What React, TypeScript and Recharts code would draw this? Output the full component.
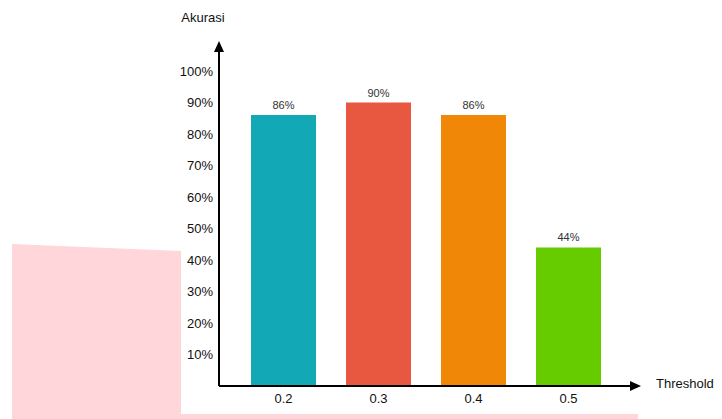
import { BarChart, Bar, XAxis, YAxis, Cell, LabelList } from 'recharts'

const thresholds = ['0.2', '0.3', '0.4', '0.5']
const accuracy = [86, 90, 86, 44]
const barColors = ['#13a8b6', '#e8573f', '#f08706', '#66cc00']
const yTicks = [10, 20, 30, 40, 50, 60, 70, 80, 90, 100]

const data = thresholds.map((t, i) => ({ threshold: t, akurasi: accuracy[i] }))

const W = 722
const H = 419
const LEFT = 219
const RIGHT = 632
const TOP = 50
const BOTTOM = 386
const X_AXIS_H = 30
const Y_AXIS_W = 60
// 100% sits at y=71
const Y_MAX = ((BOTTOM - TOP) / (BOTTOM - 71)) * 100
const FONT = '"Liberation Sans", Arial, sans-serif'

export default function App() {
  return (
    <div style={{ position: 'fixed', left: 0, top: 0, width: W, height: H, background: '#fff', fontFamily: FONT }}>
      <svg width={W} height={H} style={{ position: 'absolute', left: 0, top: 0 }}>
        <polygon points="12,244 181,251 181,414 638,414 638,419 12,419" fill="#ffd6da" />
      </svg>
      <div style={{ position: 'absolute', left: 0, top: 0 }}>
        <BarChart
          width={W}
          height={H}
          data={data}
          margin={{ top: TOP, right: W - RIGHT, bottom: H - BOTTOM - X_AXIS_H, left: LEFT - Y_AXIS_W }}
        >
          <XAxis
            dataKey="threshold"
            height={X_AXIS_H}
            padding={{ left: 17, right: 16 }}
            axisLine={{ stroke: '#000', strokeWidth: 2 }}
            tickLine={false}
            tickSize={0}
            tickMargin={8}
            tick={{ fill: '#111', fontSize: 13, fontFamily: FONT }}
          />
          <YAxis
            width={Y_AXIS_W}
            domain={[0, Y_MAX]}
            ticks={yTicks}
            tickFormatter={(v: number) => `${v}%`}
            axisLine={{ stroke: '#000', strokeWidth: 2 }}
            tickLine={false}
            tickSize={0}
            tickMargin={6}
            tick={{ fill: '#111', fontSize: 13, fontFamily: FONT }}
          />
          <Bar dataKey="akurasi" barSize={65} isAnimationActive={false}>
            {data.map((d, i) => (
              <Cell key={d.threshold} fill={barColors[i]} />
            ))}
            <LabelList
              dataKey="akurasi"
              position="top"
              offset={6}
              formatter={(v: number) => `${v}%`}
              style={{ fill: '#333', fontSize: 11, fontFamily: FONT }}
            />
          </Bar>
        </BarChart>
      </div>
      <svg width={W} height={H} style={{ position: 'absolute', left: 0, top: 0, pointerEvents: 'none' }}>
        <polygon points={`${LEFT - 5},${TOP + 2} ${LEFT + 5},${TOP + 2} ${LEFT},${TOP - 9}`} fill="#000" />
        <polygon points={`${RIGHT - 2},${BOTTOM - 5} ${RIGHT - 2},${BOTTOM + 5} ${RIGHT + 9},${BOTTOM}`} fill="#000" />
        <text x={203} y={22} textAnchor="middle" fontSize={13} fill="#111" fontFamily={FONT}>Akurasi</text>
        <text x={656} y={388} fontSize={13} fill="#111" fontFamily={FONT}>Threshold</text>
      </svg>
    </div>
  )
}
